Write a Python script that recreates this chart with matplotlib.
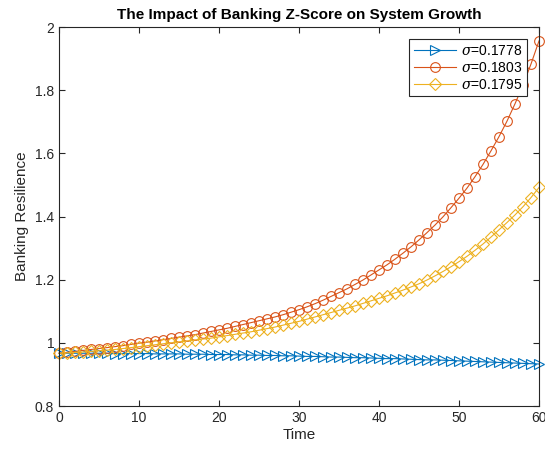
import matplotlib
matplotlib.use("Agg")
import matplotlib.pyplot as plt
import numpy as np

plt.rcParams["font.family"] = ["Liberation Sans", "DejaVu Sans"]
plt.rcParams["mathtext.fontset"] = "dejavuserif"

# time steps
time = list(range(61))

# sigma = 0.1778
res_a = [0.967, 0.967, 0.967, 0.967, 0.967, 0.967, 0.967, 0.966, 0.966, 0.966,
         0.966, 0.966, 0.965, 0.965, 0.965, 0.965, 0.964, 0.964, 0.964, 0.963,
         0.963, 0.963, 0.962, 0.962, 0.961, 0.961, 0.960, 0.960, 0.959, 0.959,
         0.958, 0.957, 0.957, 0.956, 0.955, 0.955, 0.954, 0.953, 0.953, 0.952,
         0.951, 0.950, 0.950, 0.949, 0.948, 0.947, 0.946, 0.946, 0.945, 0.944,
         0.943, 0.942, 0.941, 0.940, 0.939, 0.938, 0.937, 0.936, 0.935, 0.934,
         0.933]

# sigma = 0.1803
res_b = [0.967, 0.970, 0.973, 0.976, 0.979, 0.982, 0.985, 0.988, 0.991, 0.995,
         0.999, 1.002, 1.006, 1.010, 1.014, 1.018, 1.022, 1.026, 1.031, 1.036,
         1.041, 1.046, 1.052, 1.058, 1.064, 1.070, 1.076, 1.082, 1.089, 1.097,
         1.105, 1.114, 1.124, 1.135, 1.147, 1.159, 1.171, 1.185, 1.199, 1.215,
         1.231, 1.247, 1.265, 1.284, 1.304, 1.326, 1.349, 1.373, 1.399, 1.428,
         1.458, 1.490, 1.526, 1.565, 1.608, 1.653, 1.702, 1.757, 1.816, 1.883,
         1.956]

# sigma = 0.1795
res_c = [0.967, 0.968, 0.970, 0.971, 0.973, 0.975, 0.977, 0.979, 0.982, 0.985,
         0.988, 0.991, 0.994, 0.997, 1.000, 1.003, 1.006, 1.009, 1.012, 1.015,
         1.019, 1.023, 1.027, 1.031, 1.035, 1.040, 1.045, 1.050, 1.056, 1.062,
         1.068, 1.075, 1.082, 1.089, 1.096, 1.103, 1.110, 1.117, 1.125, 1.133,
         1.141, 1.149, 1.158, 1.167, 1.177, 1.187, 1.199, 1.212, 1.226, 1.241,
         1.257, 1.274, 1.293, 1.313, 1.335, 1.358, 1.381, 1.405, 1.431, 1.460,
         1.492]

labels = [r"$\sigma$=0.1778", r"$\sigma$=0.1803", r"$\sigma$=0.1795"]
colors = ["#0072BD", "#D95319", "#EDB120"]
markers = [">", "o", "D"]
msizes = [7, 7, 6]

fig = plt.figure(figsize=(5.45, 4.54), dpi=100)
ax = fig.add_axes([0.1083, 0.1057, 0.8807, 0.8348])

for y, lab, c, m, ms in zip([res_a, res_b, res_c], labels, colors, markers, msizes):
    ax.plot(time, y, color=c, marker=m, markersize=ms, markerfacecolor="none",
            markeredgewidth=0.8, linewidth=0.8, label=lab, clip_on=False)

ax.set_xlim(0, 60)
ax.set_ylim(0.8, 2.0)
ax.set_xticks(np.arange(0, 61, 10))
ax.set_yticks([0.8, 1.0, 1.2, 1.4, 1.6, 1.8, 2.0])
ax.set_yticklabels(["0.8", "1", "1.2", "1.4", "1.6", "1.8", "2"])

axis_col = "#262626"
for s in ax.spines.values():
    s.set_color(axis_col)
    s.set_linewidth(0.8)
ax.tick_params(direction="in", top=True, right=True, length=4, width=0.8,
               colors=axis_col, labelsize=10)

ax.set_xlabel("Time", fontsize=11, color=axis_col, labelpad=2)
ax.set_ylabel("Banking Resilience", fontsize=11, color=axis_col, labelpad=4)
ax.set_title("The Impact of Banking Z-Score on System Growth", fontsize=11,
             fontweight="bold", color="black", pad=6)

leg = ax.legend(loc="upper right", bbox_to_anchor=(0.976, 0.968), fontsize=10,
                fancybox=False, framealpha=1, edgecolor=axis_col,
                borderpad=0.35, labelspacing=0.2, handlelength=3.0,
                handletextpad=0.4, borderaxespad=0.0)
leg.get_frame().set_linewidth(0.8)

fig.savefig("out.png", dpi=100)
